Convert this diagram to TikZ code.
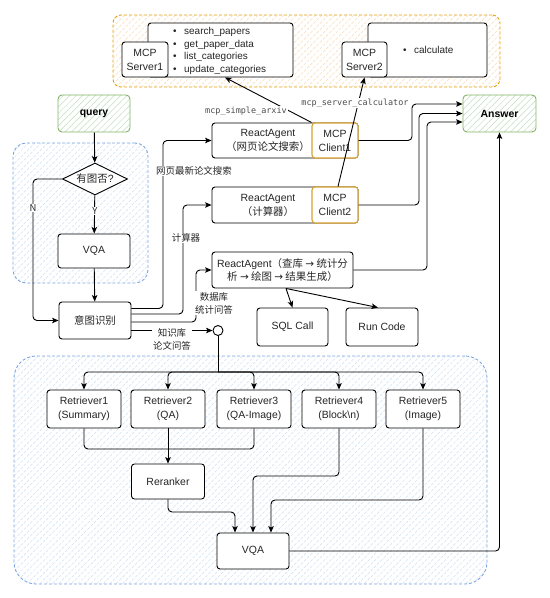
\documentclass[tikz,border=0pt]{standalone}
\usepackage{fontspec}
\setmainfont{Liberation Sans}
\newfontfamily\cjk{Noto Sans CJK SC}
\newfontfamily\handfont{DejaVu Sans Mono}
\newfontfamily\symfont{DejaVu Sans}
\usetikzlibrary{arrows.meta,patterns.meta,shapes.geometric}
\definecolor{grpblue}{HTML}{7EA6E0}
\definecolor{hatchblue}{HTML}{CFE0F6}
\definecolor{grporange}{HTML}{E5A10F}
\definecolor{hatchorange}{HTML}{F9D9B3}
\definecolor{grngreen}{HTML}{82B366}
\definecolor{hatchgreen}{HTML}{C2DDBF}
\definecolor{cliorange}{HTML}{D9A030}
\newcommand\itm[1]{\makebox[11bp][l]{\textbullet}#1}
\newcommand\nfs{\fontsize{10.5}{14}\selectfont}
\newcommand\lfs{\fontsize{9.5}{13}\selectfont}
\newcommand\arr{{\symfont →}}
\begin{document}
\begin{tikzpicture}[x=1bp,y=-1bp,
  grp/.style={dash pattern=on 3bp off 2bp, line width=0.9bp, preaction={fill=white},
     pattern={Lines[angle=45,distance=4.5bp,line width=0.5bp]}},
  box/.style={draw=black, line width=0.9bp, rounded corners=3bp, fill=white, align=center,
     font=\nfs, text=black!85, inner sep=1bp},
  cli/.style={box, draw=cliorange, line width=1.1bp},
  green/.style={draw=grngreen, line width=0.9bp, rounded corners=4bp, preaction={fill=white},
     pattern={Lines[angle=45,distance=4.5bp,line width=0.5bp]}, pattern color=hatchgreen,
     font=\bfseries\nfs, align=center},
  txt/.style={inner sep=0bp, font=\nfs, text=black!85, align=center},
  edge/.style={draw=black, line width=0.9bp, rounded corners=4bp, -{Stealth[length=6.5bp,width=5.5bp,inset=1.5bp]}},
  plain/.style={draw=black, line width=0.9bp, rounded corners=4bp},
  lbl/.style={fill=white, inner sep=1bp, font=\lfs\cjk, text=black!85, align=center},
  hand/.style={fill=white, inner sep=1bp, font=\handfont\fontsize{8.5}{10}\selectfont, text=black!70}
]
\useasboundingbox (0,0) rectangle (550,598);

% groups
\node[grp, draw=grporange, pattern color=hatchorange, rounded corners=8bp,
      minimum width=387bp, minimum height=72bp] (mcpgrp) at (306.5,51) {};
\node[grp, draw=grpblue, pattern color=hatchblue, rounded corners=13bp,
      minimum width=135bp, minimum height=140bp] (grp1) at (80.5,213) {};
\node[grp, draw=grpblue, pattern color=hatchblue, rounded corners=22bp,
      minimum width=473bp, minimum height=228bp] (grp2) at (250.5,470) {};

% MCP servers
\node[box, minimum width=145bp, minimum height=54bp] (tools1) at (220.5,50) {};
\node[box, minimum width=46bp, minimum height=35bp] (srv1) at (145,59.5) {MCP\\Server1};
\node[txt, anchor=west, align=left, font=\fontsize{10}{12.7}\selectfont] (list1) at (173,51)
  {\itm{search\_papers}\\\itm{get\_paper\_data}\\\itm{list\_categories}\\\itm{update\_categories}};
\node[box, minimum width=119bp, minimum height=54bp] (tools2) at (427.5,50) {};
\node[box, minimum width=45bp, minimum height=35bp] (srv2) at (364.5,59.5) {MCP\\Server2};
\node[txt, anchor=west, align=left, font=\fontsize{10}{12.7}\selectfont] (list2) at (403,50)
  {\itm{calculate}};

% left column
\node[green, minimum width=72bp, minimum height=37bp] (query) at (94,113.5) {query};
\node[diamond, draw=black, line width=0.9bp, fill=white, aspect=2, inner sep=0.5bp,
      minimum width=65bp, minimum height=32bp, font=\nfs, text=black!85] (dia) at (95,179) {{\cjk 有图否}?};
\node[box, minimum width=72bp, minimum height=34bp] (vqa1) at (94,251) {VQA};
\node[box, minimum width=72bp, minimum height=37bp] (intent) at (95,320.5) {{\cjk 意图识别}};

% agents
\node[box, minimum width=146bp, minimum height=35bp] (ra1) at (285,140.5) {};
\node[txt] (ra1t) at (268,140.5) {ReactAgent\\{\cjk （网页论文搜索）}};
\node[cli, minimum width=46bp, minimum height=35bp] (client1) at (335,140.5) {MCP\\Client1};
\node[box, minimum width=146bp, minimum height=36bp] (ra2) at (285,205) {};
\node[txt] (ra2t) at (268,205) {ReactAgent\\{\cjk （计算器）}};
\node[cli, minimum width=46bp, minimum height=36bp] (client2) at (335,205) {MCP\\Client2};
\node[box, minimum width=141bp, minimum height=36bp] (ra3) at (282.5,270)
  {ReactAgent{\cjk （查库 \arr{} 统计分}\\{\cjk 析 \arr{} 绘图 \arr{} 结果生成）}};
\node[box, minimum width=71bp, minimum height=38bp] (sql) at (292.5,327) {SQL Call};
\node[box, minimum width=72bp, minimum height=38bp] (run) at (382,327) {Run Code};
\node[green, minimum width=73bp, minimum height=37bp] (answer) at (499.5,113.5) {Answer};

\node[circle, draw=black, line width=0.9bp, fill=white, minimum size=10bp, inner sep=0bp] (wp) at (218,330.5) {};

% retrievers
\node[box, minimum width=74bp, minimum height=38bp] (r1) at (84,409) {Retriever1\\(Summary)};
\node[box, minimum width=74bp, minimum height=38bp] (r2) at (168,409) {Retriever2\\(QA)};
\node[box, minimum width=74bp, minimum height=38bp] (r3) at (254,409) {Retriever3\\(QA-Image)};
\node[box, minimum width=74bp, minimum height=38bp] (r4) at (339,409) {Retriever4\\(Block\textbackslash n)};
\node[box, minimum width=74bp, minimum height=38bp] (r5) at (423,409) {Retriever5\\(Image)};
\node[box, minimum width=73bp, minimum height=35bp] (rerank) at (168,481.5) {Reranker};
\node[box, minimum width=72bp, minimum height=36bp] (vqa2) at (253,551) {VQA};

% connectors
\draw[edge] (query) -- (dia);
\draw[edge] (dia) -- (vqa1);
\draw[edge] (dia.west) -- (33,179) -- (33,320.5) -- (intent.west);
\draw[edge] (vqa1) -- (intent);
\draw[edge] ([yshift=12bp]intent.east) -- (163,308.5) -- (163,140.5) -- (ra1.west);
\draw[edge] ([yshift=6.5bp]intent.east) -- (183,314) -- (183,205) -- (ra2.west);
\draw[edge] ([yshift=-1.5bp]intent.east) -- (196,322) -- (196,270) -- (ra3.west);
\draw[edge] (intent.east |- wp.west) -- (wp.west);

\coordinate (split) at (218,372);
\draw[plain] (wp.south) -- (split);
\foreach \r in {r1,r2,r3,r4,r5} { \draw[edge] (split) -| (\r.north); }
\coordinate (merge) at (168,449);
\draw[plain] (r1.south) -- (84,449) -- (merge);
\draw[plain] (r3.south) -- (254,449) -- (merge);
\draw[edge] (r2.south) -- (rerank.north);
\draw[edge] (rerank.south) -- (168,512) -| ([xshift=-18bp]vqa2.north);
\draw[edge] (r4.south) -- (339,476) -| (vqa2.north);
\draw[edge] (r5.south) -- (423,500) -| ([xshift=18bp]vqa2.north);
\draw[edge] (vqa2.east) -- (answer.south |- vqa2.east) -- (answer.south);

\draw[edge] (client1.east) -- (412,140.5) -- (412,104) -- ([yshift=9.5bp]answer.west);
\draw[edge] (client2.east) -- (419,205) -- (419,113.5) -- (answer.west);
\draw[edge] (ra3.east) -- (427,270) -- (427,122) -- ([yshift=-8.5bp]answer.west);
\draw[edge] ([xshift=3.5bp]ra3.south) -- (sql.north);
\draw[edge] ([xshift=3.5bp]ra3.south) -- ([xshift=-4bp]run.north);

\draw[edge] (client1.north west) -- ([xshift=4.5bp]tools1.south);
\draw[edge] ([xshift=3bp]client2.north) -- (srv2.south);

% labels
\node[lbl] (ly) at (95,211) {Y};
\node[lbl] (ln) at (33,208) {N};
\node[lbl] (l1) at (194,171) {网页最新论文搜索};
\node[lbl] (l2) at (186,238) {计算器};
\node[lbl] (l3) at (214,303) {数据库\\统计问答};
\node[lbl] (l4) at (172,339) {知识库\\论文问答};
\node[hand] (larxiv) at (246,111) {mcp\_simple\_arxiv};
\node[hand] (lcalc) at (355,103) {mcp\_server\_calculator};
\end{tikzpicture}
\end{document}
